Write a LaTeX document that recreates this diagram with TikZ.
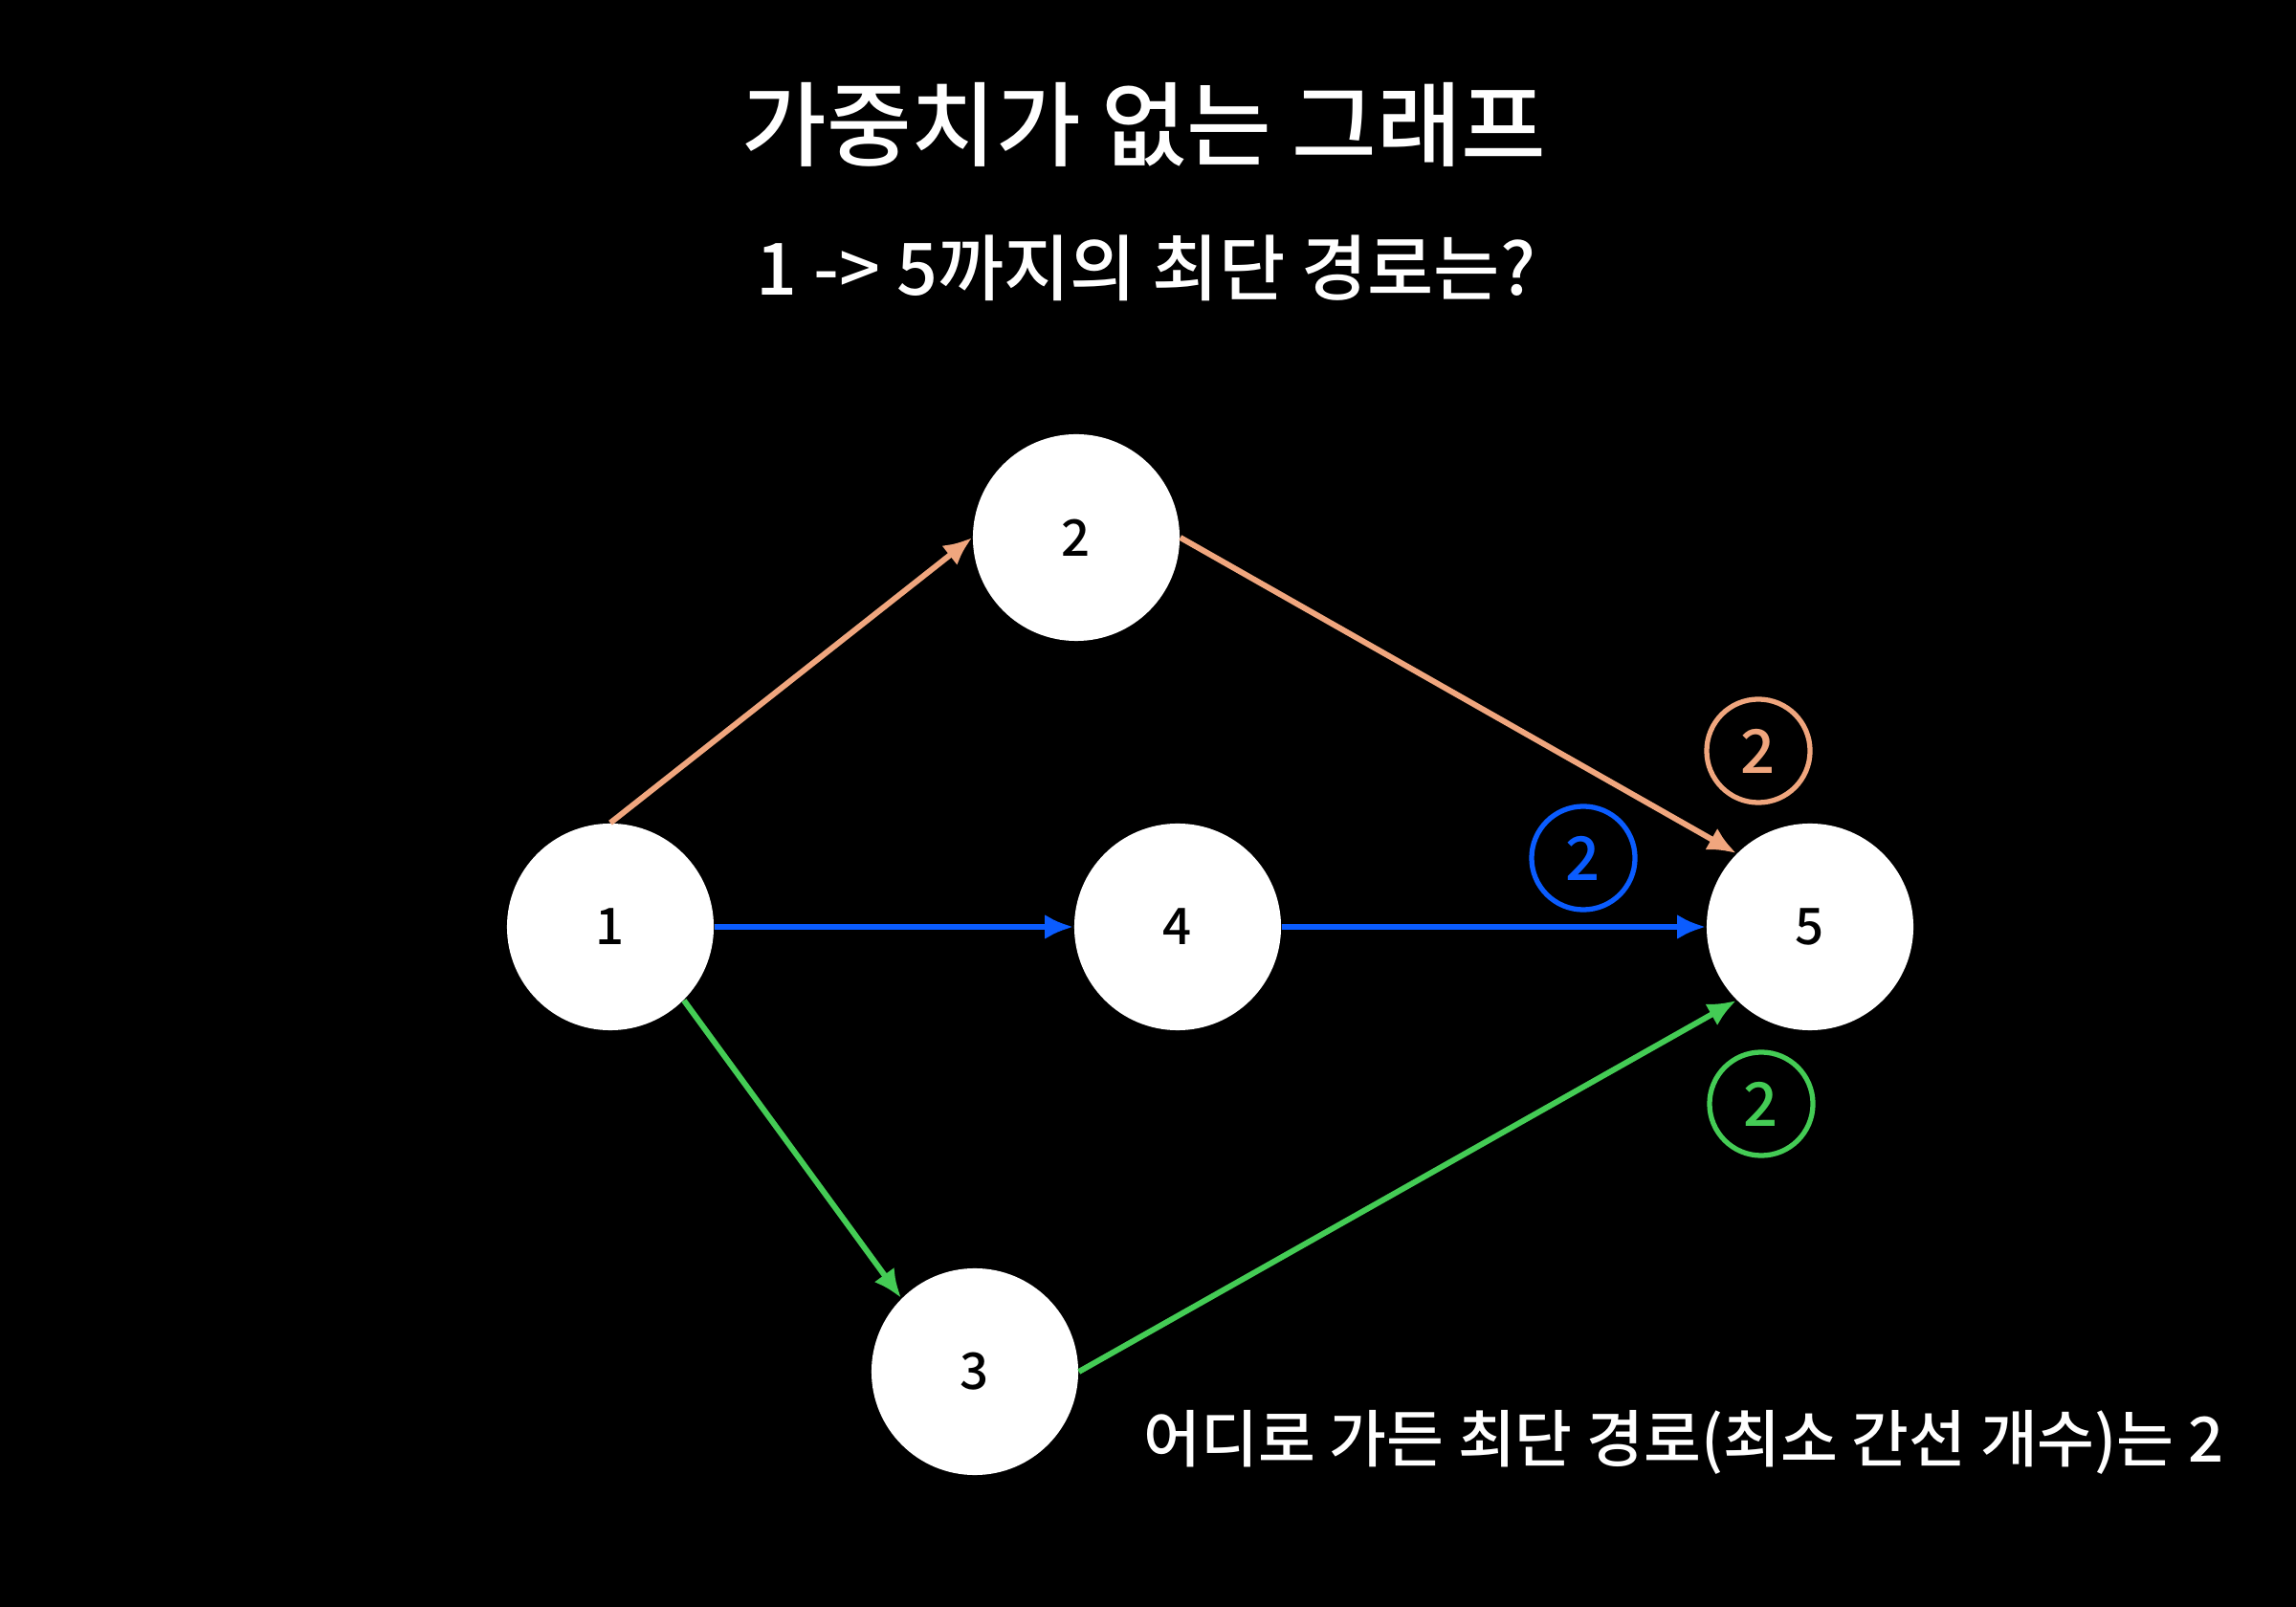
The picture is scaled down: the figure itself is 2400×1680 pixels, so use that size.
\documentclass[tikz,border=0pt]{standalone}
\usepackage{fontspec}
\setmainfont{Noto Sans CJK KR}[BoldFont={Noto Sans CJK KR Medium}]
\usetikzlibrary{arrows.meta}
\definecolor{corange}{HTML}{F0A67E}
\definecolor{cblue}{HTML}{0A5CFF}
\definecolor{cgreen}{HTML}{44CC55}
\tikzset{
  vnode/.style={circle, fill=white, draw=none, minimum size=2.16cm, inner sep=0pt, text=black, font=\fontsize{15}{17}\selectfont\bfseries},
  edge/.style={line width=1.7pt, -{Latex[length=0.3cm,width=0.26cm]}},
  badge/.style={circle, draw, line width=1.5pt, minimum size=1.08cm, inner sep=0pt, font=\fontsize{18}{20}\selectfont\bfseries},
  txt/.style={text=white, inner sep=0pt}
}
\begin{document}
\begin{tikzpicture}[x=0.01cm,y=-0.01cm]
\fill[black] (0,0) rectangle (2400,1680);
\useasboundingbox (0,0) rectangle (2400,1680);
\node[txt, font=\fontsize{27.4}{32}\selectfont\bfseries] (title) at (1196,130) {가중치가 없는 그래프};
\node[txt, font=\fontsize{21.4}{26}\selectfont\bfseries] (sub) at (1198,280) {1 -> 5까지의 최단 경로는?};
\node[txt, font=\fontsize{18.5}{22}\selectfont\bfseries] (note) at (1760,1508) {어디로 가든 최단 경로(최소 간선 개수)는 2};
\node[vnode] (n1) at (638,969) {1};
\node[vnode] (n2) at (1125,562) {2};
\node[vnode] (n4) at (1231,969) {4};
\node[vnode] (n5) at (1892,969) {5};
\node[vnode] (n3) at (1019,1434) {3};
\draw[edge, corange] (n1.north) -- (n2.west);
\draw[edge, corange] (n2.east) -- (n5.north west);
\draw[edge, cblue] (n1.east) -- (n4.west);
\draw[edge, cblue] (n4.east) -- (n5.west);
\draw[edge, cgreen] (n1.south east) -- (n3.north west);
\draw[edge, cgreen] (n3.east) -- (n5.south west);
\node[badge, corange, text=corange] (b1) at (1838,785) {2};
\node[badge, cblue, text=cblue] (b2) at (1655,897) {2};
\node[badge, cgreen, text=cgreen] (b3) at (1841,1154) {2};
\end{tikzpicture}
\end{document}
